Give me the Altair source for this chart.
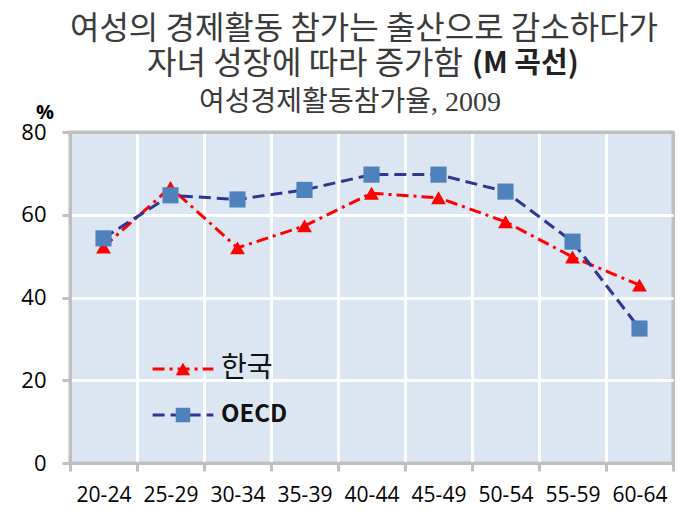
import altair as alt
import pandas as pd

# ---- data ----
ages = ["20-24", "25-29", "30-34", "35-39", "40-44", "45-49", "50-54", "55-59", "60-64"]
korea = [52.2, 66.6, 52.0, 57.3, 65.2, 64.1, 58.3, 49.8, 43.0]
oecd = [54.3, 64.7, 63.7, 66.0, 69.7, 69.7, 65.6, 53.5, 32.5]
series_names = ["한국", "OECD"]
marker_names = ["KR_m", "OECD_m"]
title_line1 = ["여성의 경제활동 참가는 출산으로 감소하다가"]
title_line2a = ["자녀 성장에 따라 증가함"]
title_line2b = ["(M 곡선)"]
subtitle = ["여성경제활동참가율, 2009"]
unit_label = ["%"]

rows = []
for s, m, vals in [(series_names[0], marker_names[0], korea), (series_names[1], marker_names[1], oecd)]:
    for a, v in zip(ages, vals):
        rows.append({"age": a, "series": s, "marker": m, "value": v})
df = pd.DataFrame(rows)

RED = "#FF0000"
NAVY = "#2F3592"
SQ = "#4F81BD"
GRAY = "#BFBFBF"
FONT = "Noto Sans CJK KR"

x_grid_color = alt.condition("datum.extra || datum.value == '60-64'", alt.value(GRAY), alt.value("#FFFFFF"))
y_grid_color = alt.condition("datum.value == 0 || datum.value == 80", alt.value(GRAY), alt.value("#FFFFFF"))

x_enc = alt.X("age:N", sort=ages, bandPosition=0.5,
              scale=alt.Scale(type="band", paddingInner=0, paddingOuter=0),
              axis=alt.Axis(title=None, tickBand="extent", labelAngle=0, grid=True,
                            gridColor=x_grid_color, gridWidth=3, gridOpacity=1,
                            domainColor=GRAY, domainWidth=3,
                            tickColor=GRAY, tickWidth=3, tickSize=8, labelPadding=13,
                            labelFontSize=21, labelFont="Open Sans", labelColor="#000000"))
y_enc = alt.Y("value:Q", scale=alt.Scale(domain=[0, 80]),
              axis=alt.Axis(title=None, values=[0, 20, 40, 60, 80], grid=True,
                            gridColor=y_grid_color, gridWidth=3, gridOpacity=1,
                            domainColor=GRAY, domainWidth=3,
                            tickColor=GRAY, tickWidth=3, tickSize=8, labelPadding=16,
                            labelFontSize=22, labelFont="Open Sans", labelColor="#000000"))

label_size = alt.ExprRef("datum.value == 'OECD' || datum.value == 'OECD_m' ? 24 : 28")
label_weight = alt.ExprRef("datum.value == 'OECD' || datum.value == 'OECD_m' ? 'bold' : 'normal'")

line_legend = alt.Legend(
    title=None, orient="none", legendX=99, legendY=223, padding=0, offset=0,
    symbolType="M-3.8,0L3.8,0", symbolSize=256, symbolStrokeWidth=3, labelOffset=24,
    rowPadding=18, labelFont=FONT, labelColor="#111111",
    labelFontSize=label_size, labelFontWeight=label_weight,
)
pt_legend = alt.Legend(
    title=None, orient="none", legendX=99, legendY=223, padding=0, offset=0,
    symbolSize=210, labelOffset=24, rowPadding=18, labelFont=FONT,
    labelFontSize=label_size, labelFontWeight=label_weight,
    labelOpacity=0, symbolStrokeWidth=0,
    labelExpr="datum.value == 'OECD_m' ? 'OECD' : '한국'",
)

stroke_enc = alt.Stroke("series:N", scale=alt.Scale(domain=series_names, range=[RED, NAVY]),
                        legend=line_legend)
dash_enc = alt.StrokeDash("series:N", scale=alt.Scale(domain=series_names,
                                                      range=[[12, 5, 3, 5], [12, 6]]),
                          legend=line_legend)
shape_enc = alt.Shape("marker:N", scale=alt.Scale(domain=marker_names,
                                                  range=["triangle-up", "square"]),
                      legend=pt_legend)
fill_enc = alt.Fill("marker:N", scale=alt.Scale(domain=marker_names, range=[RED, SQ]),
                    legend=pt_legend)

base = alt.Chart(df)


def line_layer(name):
    return base.transform_filter(alt.datum.series == name).mark_line(strokeWidth=3).encode(
        x=x_enc, y=y_enc, stroke=stroke_enc, strokeDash=dash_enc)


def point_layer(mname, size):
    return base.transform_filter(alt.datum.marker == mname).mark_point(
        filled=True, size=size, opacity=1, strokeWidth=0).encode(
        x=x_enc, y=y_enc, shape=shape_enc, fill=fill_enc)


def text_layer(values, x, y, size, font, weight="normal", align="center", color="#3A3A3A"):
    d = pd.DataFrame({"t": values})
    return alt.Chart(d).mark_text(fontSize=size, font=font, fontWeight=weight, align=align,
                                  baseline="middle", color=color).encode(
        text="t:N", x=alt.value(x), y=alt.value(y))


chart = alt.layer(
    line_layer("한국"),
    point_layer("KR_m", 220),
    line_layer("OECD"),
    point_layer("OECD_m", 260),
    text_layer(title_line1, 294, -103, 32, FONT),
    text_layer(title_line2a, 393, -68, 32, FONT, align="right"),
    text_layer(title_line2b, 402, -68, 29, FONT, weight="bold", align="left", color="#222222"),
    text_layer(subtitle, 280, -29, 28, "Liberation Serif, Noto Sans CJK KR"),
    text_layer(unit_label, -25, -19, 20, "Open Sans", weight="bold", color="#000000"),
).properties(
    width=603, height=331,
    autosize=alt.AutoSizeParams(type="none"),
    padding={"left": 62, "top": 124, "right": 19, "bottom": 50},
).configure_view(
    fill="#DCE6F2", stroke=GRAY, strokeWidth=3
)

chart.save("out.html", embed_options={"renderer": "svg", "actions": False})
